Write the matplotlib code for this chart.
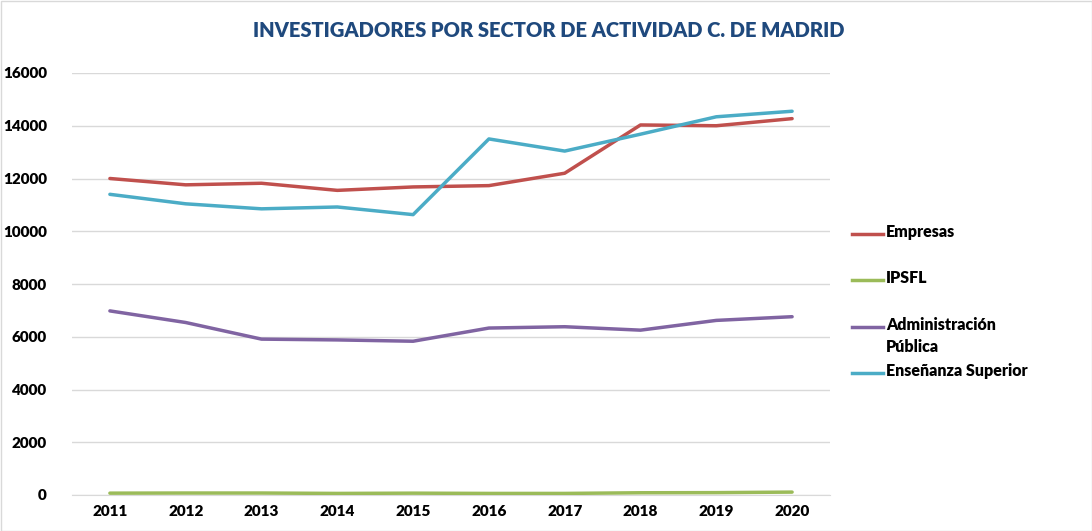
import matplotlib
matplotlib.use("Agg")
import matplotlib.pyplot as plt
from matplotlib.lines import Line2D
from matplotlib.patches import Rectangle

years = ["2011", "2012", "2013", "2014", "2015", "2016", "2017", "2018", "2019", "2020"]
empresas = [12000, 11760, 11820, 11550, 11680, 11730, 12200, 14030, 14000, 14270]
ipsfl = [70, 75, 75, 60, 70, 60, 60, 85, 90, 110]
administracion = [6980, 6540, 5910, 5880, 5830, 6330, 6380, 6250, 6620, 6760]
ensenanza = [11400, 11040, 10850, 10920, 10630, 13500, 13040, 13680, 14340, 14550]

series_names = ["Empresas", "IPSFL", "Administración\nPública", "Enseñanza Superior"]
series_vals = [empresas, ipsfl, administracion, ensenanza]
colors = ["#C0504D", "#9BBB59", "#8064A2", "#4BACC6"]

plt.rcParams['font.family'] = ['Lato', 'DejaVu Sans']

W, H = 1092, 531
fig = plt.figure(figsize=(W / 100, H / 100), dpi=100)
ax = fig.add_axes([72 / W, 1 - 495 / H, (830 - 72) / W, (495 - 73) / H])

x = list(range(len(years)))
for vals, c in zip(series_vals, colors):
    ax.plot(x, vals, color=c, lw=2.5, solid_capstyle='round', zorder=3)

ax.set_xlim(-0.5, len(years) - 0.5)
ax.set_ylim(0, 16000)
ax.set_yticks(range(0, 16001, 2000))
ax.set_yticklabels([str(v) for v in range(0, 16001, 2000)], fontsize=11, fontweight='heavy')
ax.set_xticks(x)
ax.set_xticklabels(years, fontsize=11, fontweight='heavy')
ax.tick_params(length=0, pad=7)
ax.tick_params(axis='y', pad=18)
ax.grid(axis='y', color='#D9D9D9', lw=1)
ax.set_axisbelow(True)
for s in ['top', 'right', 'left']:
    ax.spines[s].set_visible(False)
ax.spines['bottom'].set_color('#D9D9D9')

fig.text(549 / W, 1 - 31 / H, "INVESTIGADORES POR SECTOR DE ACTIVIDAD C. DE MADRID",
         ha='center', va='center', fontsize=14.5, fontweight='heavy', color='#1F497D')

# legend
leg_y = [234, 280, 327, 373]
for name, c, yy in zip(series_names, colors, leg_y):
    fig.add_artist(Line2D([852 / W, 883 / W], [1 - yy / H, 1 - yy / H], color=c, lw=2.5,
                          transform=fig.transFigure))
    fig.text(886 / W, 1 - (yy - 10) / H, name, ha='left', va='top', fontsize=11.5,
             fontweight='heavy', color='black', linespacing=1.5)

fig.add_artist(Rectangle((0.5 / W, 0.5 / H), (W - 1) / W, (H - 1) / H, fill=False,
                         edgecolor='#D9D9D9', lw=1, transform=fig.transFigure))

fig.savefig("out.png", dpi=100)
